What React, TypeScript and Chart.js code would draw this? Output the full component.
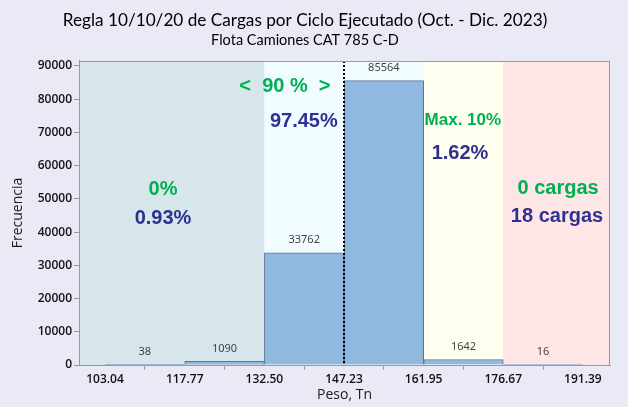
import React, { useEffect, useRef } from "react";
import { Chart, registerables } from "chart.js";

Chart.register(...registerables);

// Data
const binEdges = [103.04, 117.77, 132.5, 147.23, 161.95, 176.67, 191.39];
const binCounts = [38, 1090, 33762, 85564, 1642, 16];
const yTicks = [0, 10000, 20000, 30000, 40000, 50000, 60000, 70000, 80000, 90000];
const zoneEdges = [132.5, 161.95, 176.67];
const limitLine = 147.23;
const zoneColors = ["#D6E6EA", "#F0FCFF", "#FFFFF0", "#FFE6E6"];

const greenTexts = [
  { t: "<  90 %  >", x: 136.3, y: 83700, size: 20 },
  { t: "0%", x: 113.76, y: 52700, size: 20 },
  { t: "Max. 10%", x: 169.2, y: 73750, size: 17 },
  { t: "0 cargas", x: 186.8, y: 53000, size: 20 },
];
const blueTexts = [
  { t: "97.45%", x: 139.8, y: 73150, size: 20 },
  { t: "0.93%", x: 113.76, y: 43950, size: 20 },
  { t: "1.62%", x: 168.67, y: 63800, size: 20 },
  { t: "18 cargas", x: 186.6, y: 44550, size: 20 },
];

const GREEN = "rgb(0,176,80)";
const NAVY = "rgb(46,49,146)";
const BG = "#EAEAF6";

const bgPlugin = {
  id: "zones",
  beforeDatasetsDraw(chart: any) {
    const { ctx, chartArea, scales } = chart;
    const xs = scales.x;
    const bounds = [xs.min, ...zoneEdges, xs.max];
    ctx.save();
    for (let i = 0; i < bounds.length - 1; i++) {
      const x0 = xs.getPixelForValue(bounds[i]);
      const x1 = xs.getPixelForValue(bounds[i + 1]);
      ctx.fillStyle = zoneColors[i];
      ctx.fillRect(x0, chartArea.top, x1 - x0, chartArea.bottom - chartArea.top);
    }
    ctx.restore();
  },
  afterDatasetsDraw(chart: any) {
    const { ctx, chartArea, scales } = chart;
    const xs = scales.x;
    const ys = scales.y;
    ctx.save();
    // value labels
    const meta = chart.getDatasetMeta(0);
    ctx.font = "11px 'Noto Sans'";
    ctx.fillStyle = "#444444";
    ctx.textAlign = "center";
    ctx.textBaseline = "middle";
    meta.data.forEach((el: any, i: number) => {
      ctx.fillText(String(binCounts[i]), el.x, el.y - 13);
    });
    // dotted line
    const lx = xs.getPixelForValue(limitLine);
    ctx.strokeStyle = "#000";
    ctx.lineWidth = 2;
    ctx.setLineDash([2, 2]);
    ctx.beginPath();
    ctx.moveTo(lx, chartArea.top);
    ctx.lineTo(lx, chartArea.bottom);
    ctx.stroke();
    ctx.setLineDash([]);
    // annotations
    const draw = (arr: any[], color: string) => {
      arr.forEach((a) => {
        ctx.font = `bold ${a.size}px 'Liberation Sans', Arial`;
        ctx.fillStyle = color;
        ctx.fillText(a.t, xs.getPixelForValue(a.x), ys.getPixelForValue(a.y));
      });
    };
    draw(greenTexts, GREEN);
    draw(blueTexts, NAVY);
    // frame
    ctx.strokeStyle = "#999999";
    ctx.lineWidth = 1;
    ctx.strokeRect(chartArea.left + 0.5, chartArea.top + 0.5, chartArea.right - chartArea.left - 1, chartArea.bottom - chartArea.top);
    ctx.restore();
  },
};

export default function App() {
  const ref = useRef<HTMLCanvasElement | null>(null);
  useEffect(() => {
    if (!ref.current) return;
    const centers = binCounts.map((_, i) => (binEdges[i] + binEdges[i + 1]) / 2);
    const chart = new Chart(ref.current, {
      type: "bar",
      data: {
        datasets: [
          {
            data: centers.map((c, i) => ({ x: c, y: binCounts[i] })),
            backgroundColor: "rgb(143,185,224)",
            borderColor: "rgb(95,115,145)",
            borderWidth: 1,
            barPercentage: 1,
            categoryPercentage: 1,
          } as any,
        ],
      },
      options: {
        responsive: false,
        animation: false,
        layout: { padding: { left: 0, right: 18, top: 0, bottom: 0 } },
        plugins: {
          legend: { display: false },
          tooltip: { enabled: false },
          title: {
            display: true,
            text: "Regla 10/10/20 de Cargas por Ciclo Ejecutado (Oct. - Dic. 2023)",
            color: "#000",
            font: { size: 17.2, family: "Lato", weight: "normal", lineHeight: 1.1 },
            padding: { top: 11, bottom: 2.5 },
          },
          subtitle: {
            display: true,
            text: "Flota Camiones CAT 785 C-D",
            color: "#000",
            font: { size: 14.5, family: "Lato", weight: "normal", lineHeight: 1.1 },
            padding: { top: 0, bottom: 12.6 },
          },
        },
        scales: {
          x: {
            type: "linear",
            min: 98.23,
            max: 196.4,
            offset: false,
            afterBuildTicks: (s: any) => {
              s.ticks = binEdges.map((v) => ({ value: v }));
            },
            afterFit: (s: any) => {
              s.height = 42;
            },
            ticks: {
              autoSkip: false,
              maxRotation: 0,
              color: "#111",
              font: { size: 12, family: "'Open Sans'", weight: "600" },
              padding: 2,
              callback: (v: any) => Number(v).toFixed(2),
            },
            grid: { drawOnChartArea: false, drawTicks: true, tickLength: 5, color: "#999" },
            border: { display: true, color: "#999" },
            title: {
              display: true,
              text: "Peso, Tn",
              color: "#1a1a1a",
              font: { size: 14, family: "'Open Sans'" },
              padding: { top: 0, bottom: 4 },
            },
          },
          y: {
            min: 0,
            max: 91500,
            afterBuildTicks: (s: any) => {
              s.ticks = yTicks.map((v) => ({ value: v }));
            },
            afterFit: (s: any) => {
              s.width = 79;
            },
            ticks: {
              autoSkip: false,
              color: "#111",
              font: { size: 12, family: "'Open Sans'", weight: "600" },
              padding: 2,
              callback: (v: any) => String(v),
            },
            grid: { drawOnChartArea: false, drawTicks: true, tickLength: 5, color: "#999" },
            border: { display: true, color: "#999" },
            title: {
              display: true,
              text: "Frecuencia",
              color: "#1a1a1a",
              font: { size: 14, family: "'Open Sans'" },
              padding: { top: 10, bottom: 0 },
            },
          },
        },
      } as any,
      plugins: [bgPlugin],
    });
    return () => chart.destroy();
  }, []);
  return (
    <div style={{ position: "absolute", left: 0, top: 0, width: 628, height: 407, background: BG }}>
      <canvas ref={ref} width={628} height={407} />
    </div>
  );
}
